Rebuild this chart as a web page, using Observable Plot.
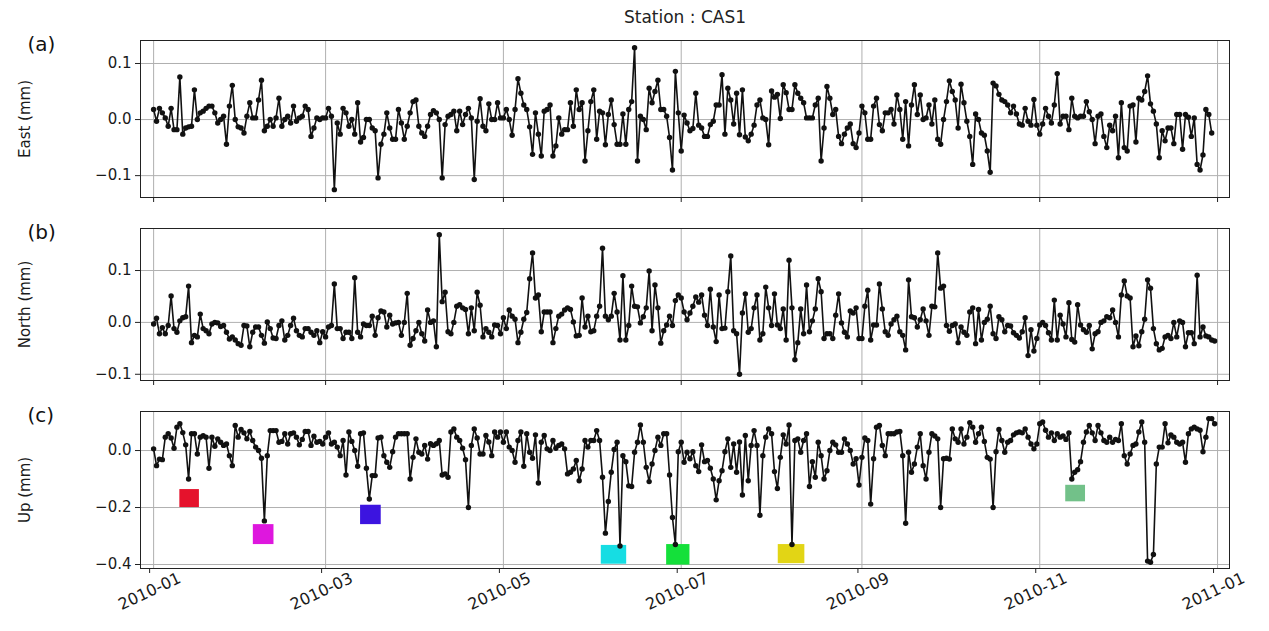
<!DOCTYPE html>
<html>
<head>
<meta charset="utf-8">
<script src="https://cdn.jsdelivr.net/npm/d3@7"></script>
<script src="https://cdn.jsdelivr.net/npm/@observablehq/plot@0.6"></script>
<style>
  html, body { margin: 0; padding: 0; background: white; }
  #chart { position: relative; width: 1269px; height: 631px; overflow: hidden; background: white; }
  #chart svg { position: absolute; left: 0; max-width: none; }
</style>
</head>
<body>
<div id="chart"></div>
<script>
// ---- Data (daily series, 2010-01-01 .. 2010-12-31), values in mm ----
const startDate = "2010-01-01";
const stationTitle = "Station : CAS1";
const xTickLabels = ["2010-01", "2010-03", "2010-05", "2010-07", "2010-09", "2010-11", "2011-01"];

const east = [
  // Jan
  0.018, -0.003, 0.02, 0.012, 0.003, -0.012, 0.02, -0.018, -0.018, 0.076, -0.026, -0.015, -0.013, -0.012, 0.053, 0.0, 0.012, 0.015, 0.02, 0.024, 0.024, 0.012, -0.006, 0.0, 0.006, -0.044, 0.024, 0.061, 0.0, -0.013, -0.015,
  // Feb
  -0.024, 0.006, 0.03, 0.003, 0.003, 0.035, 0.07, -0.02, -0.012, 0.0, -0.012, 0.003, 0.038, -0.012, 0.0, 0.006, -0.006, 0.024, -0.003, 0.003, 0.006, 0.024, 0.018, -0.03, -0.015, 0.003, 0.0, 0.003,
  // Mar
  0.003, 0.02, 0.006, -0.125, -0.006, -0.026, 0.02, 0.012, -0.012, 0.0, -0.026, 0.03, -0.04, -0.032, 0.0, 0.0, -0.015, -0.02, -0.104, -0.044, -0.026, 0.012, -0.015, -0.035, -0.035, 0.018, -0.006, -0.035, -0.012, 0.012, 0.032,
  // Apr
  0.035, -0.012, -0.024, -0.03, -0.012, 0.009, 0.016, 0.012, 0.0, -0.104, -0.009, 0.006, 0.009, 0.015, -0.02, 0.015, -0.009, 0.009, 0.02, 0.003, -0.107, -0.003, 0.037, -0.012, -0.02, 0.028, 0.0, 0.0, 0.03, 0.003,
  // May
  0.003, 0.018, 0.0, -0.028, 0.018, 0.073, 0.047, 0.026, 0.018, -0.013, -0.062, 0.012, -0.026, -0.065, 0.015, 0.018, 0.026, -0.065, -0.047, 0.003, -0.026, -0.018, -0.018, 0.03, -0.012, 0.053, 0.018, 0.03, -0.074, -0.02, 0.032,
  // Jun
  0.053, -0.035, 0.015, 0.012, -0.045, 0.009, 0.035, -0.009, -0.044, -0.044, 0.01, -0.044, 0.018, 0.032, 0.128, -0.074, 0.006, 0.0, -0.018, 0.056, 0.03, 0.05, 0.07, 0.018, 0.018, 0.006, -0.032, -0.09, 0.086, 0.012,
  // Jul
  -0.056, 0.008, -0.006, -0.02, -0.016, 0.047, -0.01, -0.015, -0.03, -0.03, -0.009, -0.003, 0.026, 0.026, 0.08, -0.026, 0.056, 0.035, -0.008, 0.047, -0.027, 0.053, -0.031, -0.038, -0.026, -0.01, 0.026, 0.035, 0.003, 0.0, -0.045,
  // Aug
  0.051, 0.04, 0.045, 0.002, 0.062, 0.048, 0.018, 0.018, 0.062, 0.047, 0.038, 0.03, 0.003, 0.003, 0.003, 0.026, 0.038, -0.074, -0.015, 0.059, 0.038, 0.009, 0.018, -0.03, -0.043, -0.026, -0.015, -0.008, -0.043, -0.05, -0.024,
  // Sep
  0.024, 0.012, -0.035, -0.035, 0.024, 0.038, -0.009, -0.02, 0.012, 0.012, 0.018, -0.008, 0.044, 0.018, -0.035, 0.032, -0.047, 0.026, 0.062, 0.009, 0.044, 0.0, 0.003, 0.026, -0.008, 0.035, -0.035, -0.044, 0.0, 0.032,
  // Oct
  0.069, 0.05, 0.035, -0.015, 0.063, 0.03, -0.003, -0.03, -0.08, 0.01, 0.0, -0.024, -0.028, -0.056, -0.094, 0.065, 0.06, 0.045, 0.035, 0.032, 0.026, 0.012, 0.024, 0.01, -0.008, -0.01, 0.02, -0.003, -0.01, 0.036, -0.01,
  // Nov
  -0.026, -0.008, 0.02, 0.006, -0.006, 0.026, 0.082, -0.008, 0.006, 0.006, -0.018, 0.038, 0.006, 0.003, 0.006, 0.006, 0.032, 0.014, 0.0, -0.043, 0.006, 0.01, -0.03, -0.05, -0.01, -0.02, 0.006, -0.068, 0.03, -0.05,
  // Dec
  -0.056, 0.024, 0.026, -0.04, 0.038, 0.035, 0.05, 0.078, 0.028, 0.015, -0.008, -0.068, -0.02, -0.038, -0.015, -0.015, -0.043, 0.009, 0.009, -0.053, 0.009, 0.004, -0.03, 0.003, -0.08, -0.09, -0.063, 0.018, 0.009, -0.024
];

const north = [
  // Jan
  -0.003, 0.008, -0.022, -0.01, -0.022, -0.006, 0.051, -0.012, -0.019, 0.003, 0.009, 0.011, 0.07, -0.039, -0.025, -0.028, 0.016, -0.012, -0.016, -0.022, -0.003, 0.0, -0.001, -0.008, -0.006, -0.019, -0.032, -0.028, -0.034, -0.041, -0.044,
  // Feb
  -0.006, -0.007, -0.047, -0.019, -0.009, -0.009, -0.025, -0.04, 0.001, -0.012, -0.03, -0.031, -0.006, 0.003, -0.034, -0.025, -0.006, 0.008, -0.016, -0.025, -0.028, -0.012, -0.012, -0.019, -0.025, -0.016, -0.039, -0.018,
  // Mar
  -0.028, -0.009, -0.006, 0.074, -0.012, -0.012, -0.031, -0.019, -0.019, -0.031, 0.086, -0.019, -0.028, -0.003, -0.006, -0.006, 0.012, -0.025, 0.009, 0.022, 0.02, -0.009, 0.014, -0.003, -0.001, 0.0, -0.025, 0.0, 0.056, -0.044, -0.031,
  // Apr
  -0.016, 0.0, -0.022, -0.036, 0.024, 0.0, 0.003, -0.047, 0.169, 0.04, 0.058, -0.018, -0.022, 0.0, 0.031, 0.034, 0.028, 0.025, -0.022, 0.028, -0.016, 0.058, 0.033, -0.028, -0.012, -0.019, -0.028, -0.005, -0.006, -0.022,
  // May
  0.009, -0.012, 0.024, 0.012, 0.006, -0.039, -0.019, 0.006, 0.019, 0.084, 0.134, 0.047, 0.053, -0.018, 0.02, 0.02, 0.02, -0.039, -0.012, 0.012, 0.016, 0.024, 0.028, 0.025, 0.001, -0.026, -0.025, 0.047, -0.009, 0.012, -0.018,
  // Jun
  -0.016, 0.012, 0.031, 0.143, 0.012, 0.005, 0.012, 0.056, 0.02, -0.034, 0.09, -0.034, -0.006, 0.07, 0.031, 0.03, -0.001, 0.011, 0.028, 0.099, -0.016, 0.072, 0.028, -0.04, -0.016, -0.005, 0.012, -0.006, 0.042, 0.053,
  // Jul
  0.047, 0.02, 0.005, 0.018, 0.031, 0.049, 0.039, 0.053, 0.014, -0.006, 0.064, -0.009, -0.037, 0.053, -0.012, -0.011, 0.059, 0.128, -0.016, -0.022, -0.1, 0.018, 0.055, -0.019, -0.012, 0.028, 0.053, -0.034, -0.022, 0.068, 0.028,
  // Aug
  -0.006, 0.055, -0.005, -0.012, 0.026, -0.034, 0.12, 0.028, -0.072, -0.039, 0.026, -0.022, 0.072, -0.018, 0.003, 0.026, 0.084, 0.059, -0.031, -0.022, -0.022, -0.031, 0.014, 0.055, -0.001, -0.019, -0.028, 0.022, 0.018, 0.028, -0.031,
  // Sep
  -0.031, 0.031, 0.062, -0.034, -0.005, -0.005, 0.074, 0.026, -0.018, -0.025, -0.003, 0.005, 0.012, -0.018, -0.025, -0.053, 0.082, 0.011, 0.009, -0.009, 0.005, 0.026, 0.003, -0.025, 0.031, 0.03, 0.134, 0.066, 0.07, -0.006,
  // Oct
  -0.017, -0.006, -0.003, -0.039, -0.009, -0.019, -0.025, 0.02, 0.028, -0.041, 0.025, -0.034, 0.0, 0.006, 0.031, -0.022, -0.031, 0.011, 0.005, -0.018, -0.006, -0.007, -0.02, -0.025, -0.03, -0.018, 0.009, -0.064, -0.014, -0.055, -0.031,
  // Nov
  -0.005, 0.0, -0.006, -0.02, -0.034, 0.043, -0.034, 0.014, -0.003, -0.028, 0.038, -0.033, -0.038, 0.034, -0.005, -0.014, -0.019, -0.006, -0.051, -0.022, -0.018, 0.0, 0.003, 0.011, 0.009, 0.024, 0.0, -0.028, 0.053, 0.08,
  // Dec
  0.051, 0.047, -0.047, -0.026, -0.045, -0.018, 0.006, 0.082, 0.066, -0.012, -0.041, -0.053, -0.05, -0.028, -0.025, -0.031, 0.0, -0.028, 0.003, 0.0, -0.047, -0.02, -0.02, -0.041, 0.091, -0.028, -0.009, -0.026, -0.028, -0.034, -0.036
];

const up = [
  // Jan
  0.006, -0.053, -0.03, -0.032, 0.047, 0.059, 0.044, 0.008, 0.082, 0.094, 0.063, 0.02, -0.1, 0.059, 0.059, -0.012, 0.047, 0.052, 0.047, -0.062, 0.047, 0.015, 0.041, 0.029, 0.018, 0.023, -0.018, -0.053, 0.088, 0.047, 0.074,
  // Feb
  0.062, 0.041, 0.067, 0.035, 0.012, 0.0, -0.027, -0.247, -0.018, 0.07, 0.07, 0.07, 0.029, 0.032, 0.059, 0.023, 0.059, 0.062, 0.047, 0.02, 0.039, 0.067, 0.067, 0.018, 0.05, 0.029, 0.032, 0.023,
  // Mar
  0.047, 0.062, 0.023, 0.029, 0.012, -0.018, 0.035, -0.086, 0.065, 0.032, 0.0, -0.055, 0.059, 0.062, -0.062, -0.17, -0.088, -0.088, 0.044, 0.047, -0.018, -0.041, -0.059, -0.004, 0.047, 0.059, 0.059, 0.059, 0.059, -0.1, -0.024,
  // Apr
  0.041, -0.006, -0.012, 0.018, -0.03, 0.024, 0.018, 0.024, 0.035, -0.086, -0.082, -0.094, 0.065, 0.076, 0.047, 0.035, 0.008, -0.032, -0.2, 0.018, 0.076, 0.044, -0.012, -0.012, 0.053, 0.03, -0.018, 0.065, 0.047, 0.065,
  // May
  0.029, 0.065, 0.012, 0.0, -0.041, 0.035, 0.065, -0.055, 0.059, -0.006, -0.027, 0.055, -0.114, 0.029, 0.053, 0.006, 0.0, 0.035, 0.008, 0.018, 0.023, 0.006, -0.082, -0.076, -0.065, -0.035, -0.106, -0.065, 0.035, 0.012, 0.035,
  // Jun
  0.035, 0.07, 0.035, -0.094, -0.29, -0.179, -0.076, 0.004, 0.029, -0.335, -0.018, -0.039, -0.124, -0.126, -0.006, 0.029, 0.09, 0.029, -0.059, -0.109, -0.047, 0.0, 0.047, 0.018, 0.059, 0.059, -0.086, -0.235, -0.33, -0.004,
  // Jul
  0.029, -0.041, -0.006, -0.029, -0.004, -0.053, -0.074, 0.02, -0.039, -0.035, -0.062, -0.1, -0.173, -0.106, -0.071, -0.004, 0.041, -0.059, 0.023, -0.076, 0.03, -0.156, 0.053, -0.106, 0.018, 0.07, 0.018, -0.227, -0.018, 0.047, 0.076,
  // Aug
  0.059, -0.074, -0.133, -0.024, 0.055, 0.023, 0.09, -0.33, 0.035, 0.041, -0.006, 0.035, 0.059, -0.126, -0.039, -0.094, 0.029, -0.018, -0.1, -0.071, 0.0, 0.029, 0.02, -0.006, -0.006, 0.041, 0.023, 0.0, -0.047, -0.029, -0.121,
  // Sep
  -0.024, 0.044, 0.035, -0.188, -0.029, 0.082, 0.088, 0.018, -0.018, 0.059, 0.059, 0.059, 0.065, 0.067, -0.018, -0.255, -0.006, -0.076, -0.047, 0.012, 0.059, -0.053, -0.1, -0.006, 0.059, 0.051, 0.041, -0.2, -0.029, -0.027,
  // Oct
  -0.03, 0.076, 0.041, 0.029, 0.076, 0.023, 0.047, 0.098, 0.082, 0.029, 0.059, 0.082, 0.032, -0.024, -0.03, -0.2, -0.004, 0.074, 0.035, -0.006, 0.029, 0.035, 0.055, 0.062, 0.065, 0.062, 0.076, 0.047, 0.023, 0.006, 0.023,
  // Nov
  0.094, 0.1, 0.071, 0.047, 0.062, 0.035, 0.059, 0.047, 0.051, 0.039, 0.062, -0.1, -0.076, -0.067, -0.039, 0.029, 0.065, 0.088, 0.062, 0.035, 0.088, 0.062, 0.035, 0.029, 0.047, 0.029, 0.039, 0.035, 0.094, -0.018,
  // Dec
  -0.047, -0.012, 0.018, 0.023, 0.065, 0.1, 0.029, -0.388, -0.392, -0.365, -0.047, 0.012, 0.012, 0.094, 0.027, 0.055, 0.047, 0.029, 0.023, 0.029, -0.041, 0.059, 0.076, 0.082, 0.076, 0.071, -0.004, 0.047, 0.112, 0.112, 0.094
];

// Coloured event markers in panel (c)
const markerStart = ["2010-01-10T00:00Z", "2010-02-04T05:00Z", "2010-03-13T00:00Z", "2010-06-03T14:00Z", "2010-06-26T00:00Z", "2010-08-03T07:00Z", "2010-11-09T22:00Z"];
const markerEnd   = ["2010-01-16T17:00Z", "2010-02-11T07:00Z", "2010-03-20T02:00Z", "2010-06-12T07:00Z", "2010-07-04T00:00Z", "2010-08-12T10:00Z", "2010-11-16T17:00Z"];
const markerLow   = [-0.2, -0.33, -0.26, -0.399, -0.402, -0.397, -0.18];
const markerHigh  = [-0.137, -0.26, -0.192, -0.333, -0.33, -0.33, -0.122];
const markerColor = ["#e5122c", "#de17de", "#3c14e0", "#16dde3", "#14e03a", "#e2d515", "#72c189"];

// ---- Build ----
const t0 = new Date(startDate + "T00:00Z");
const dayMs = 864e5;
const toRows = arr => arr.map((v, i) => ({date: new Date(t0.getTime() + i * dayMs), value: v}));
const xTicks = xTickLabels.map(s => new Date(s + "-01T00:00Z"));
const xDomain = [new Date(t0.getTime() - 4.5 * dayMs), new Date(t0.getTime() + 369.1 * dayMs)];
const fmt = d3.utcFormat("%Y-%m");
const FONT = "DejaVu Sans, sans-serif";

function panel({values, label, tag, yDomain, yTicks, top, marginTop, frameH, marginBottom, showX, extra = []}) {
  const rows = toRows(values);
  const svg = Plot.plot({
    width: 1269,
    height: marginTop + frameH + marginBottom,
    marginLeft: 140, marginRight: 40, marginTop, marginBottom,
    style: {fontFamily: FONT, fontSize: "15px", background: "transparent", overflow: "visible", color: "#1a1a1a"},
    x: {type: "utc", domain: xDomain, label: null},
    y: {domain: yDomain, label},
    color: {type: "identity"},
    marks: [
      Plot.gridX(xTicks, {stroke: "#b0b0b0", strokeOpacity: 1, strokeWidth: 1}),
      Plot.gridY(yTicks, {stroke: "#b0b0b0", strokeOpacity: 1, strokeWidth: 1}),
      ...extra,
      Plot.line(rows, {x: "date", y: "value", stroke: "#111", strokeWidth: 1.6}),
      Plot.dot(rows, {x: "date", y: "value", r: 2.7, fill: "#111", stroke: "none"}),
      Plot.frame({stroke: "#222", strokeWidth: 1}),
      Plot.axisY(yTicks, {tickFormat: d3.format(".1f"), tickSize: 5, tickPadding: 4, fontSize: 15,
        label, labelAnchor: "center", labelOffset: 121, labelArrow: "none", stroke: "#222"}),
      Plot.axisX(xTicks, showX
        ? {tickFormat: fmt, tickSize: 5, tickRotate: -25, textAnchor: "middle", tickPadding: 18, dx: -4, fontSize: 16, label: null, stroke: "#222"}
        : {tickFormat: () => "", tickSize: 5, label: null, stroke: "#222"}),
      Plot.text([tag], {frameAnchor: "top-left", dx: -113, dy: -4, fontSize: 20, textAnchor: "start", fill: "#111"}),
      ...(top === 0 ? [Plot.text([stationTitle], {frameAnchor: "top", dy: -30, fontSize: 17, fill: "#222"})] : [])
    ]
  });
  svg.style.top = top + "px";
  return svg;
}

const markerRects = Plot.rect(markerColor.map((c, i) => i), {
  x1: i => new Date(markerStart[i]), x2: i => new Date(markerEnd[i]),
  y1: i => markerLow[i], y2: i => markerHigh[i],
  fill: i => markerColor[i]
});

const chart = document.getElementById("chart");
chart.append(
  panel({values: east, label: "East (mm)", tag: "(a)", yDomain: [-0.139, 0.141], yTicks: [-0.1, 0, 0.1],
         top: 0, marginTop: 40, frameH: 157, marginBottom: 10, showX: false}),
  panel({values: north, label: "North (mm)", tag: "(b)", yDomain: [-0.112, 0.181], yTicks: [-0.1, 0, 0.1],
         top: 218, marginTop: 10, frameH: 152, marginBottom: 10, showX: false}),
  panel({values: up, label: "Up (mm)", tag: "(c)", yDomain: [-0.414, 0.137], yTicks: [-0.4, -0.2, 0],
         top: 401, marginTop: 10, frameH: 157, marginBottom: 63, showX: true, extra: [markerRects]})
);
</script>
</body>
</html>
